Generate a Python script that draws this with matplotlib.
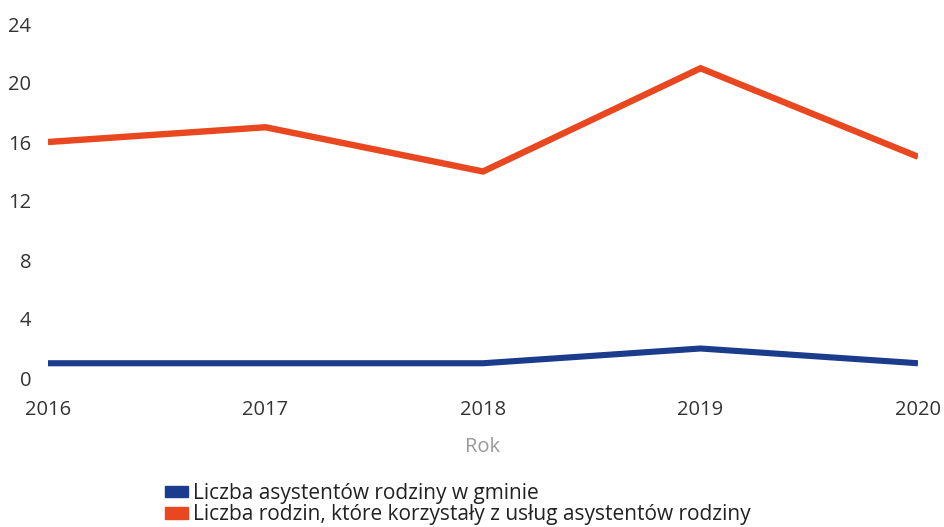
import matplotlib
matplotlib.use("Agg")
import matplotlib.pyplot as plt
from matplotlib.patches import Patch

years = [2016, 2017, 2018, 2019, 2020]
assistants = [1, 1, 1, 2, 1]
families = [16, 17, 14, 21, 15]
yticks = [0, 4, 8, 12, 16, 20, 24]
label_assistants = "Liczba asystentów rodziny w gminie"
label_families = "Liczba rodzin, które korzystały z usług asystentów rodziny"

plt.rcParams['font.family'] = ['Open Sans', 'DejaVu Sans']

fig = plt.figure(figsize=(9.45, 5.27), dpi=100)
ax = fig.add_axes([48/945, 1-378/527, (918-48)/945, (378-24)/527])

blue = "#1B3C8C"
red = "#E8471F"
ax.plot(years, assistants, color=blue, lw=4.4, solid_capstyle='butt', solid_joinstyle='miter')
ax.plot(years, families, color=red, lw=4.6, solid_capstyle='butt', solid_joinstyle='miter')

ax.set_xlim(years[0], years[-1])
ax.set_ylim(0, 24)
ax.set_yticks(yticks)
ax.set_xticks(years)
ax.set_xticklabels([str(y) for y in years])
for s in ax.spines.values():
    s.set_visible(False)
ax.tick_params(axis='both', length=0, labelsize=14.5, colors="#333333")
ax.tick_params(axis='y', pad=12)
ax.tick_params(axis='x', pad=16)

ax.set_xlabel("Rok", fontsize=14.5, color="#9a9a9a", labelpad=12)

handles = [Patch(color=blue, label=label_assistants), Patch(color=red, label=label_families)]
fig.legend(handles=handles, loc='upper left', bbox_to_anchor=(165/945, 1-483/527),
           frameon=False, handlelength=1.1, handleheight=0.45,
           handletextpad=0.25, labelspacing=0.02, borderpad=0, borderaxespad=0,
           labelcolor="#222222", prop={'family': ['Open Sans', 'DejaVu Sans'], 'size': 15})

fig.savefig("out.png", dpi=100)
